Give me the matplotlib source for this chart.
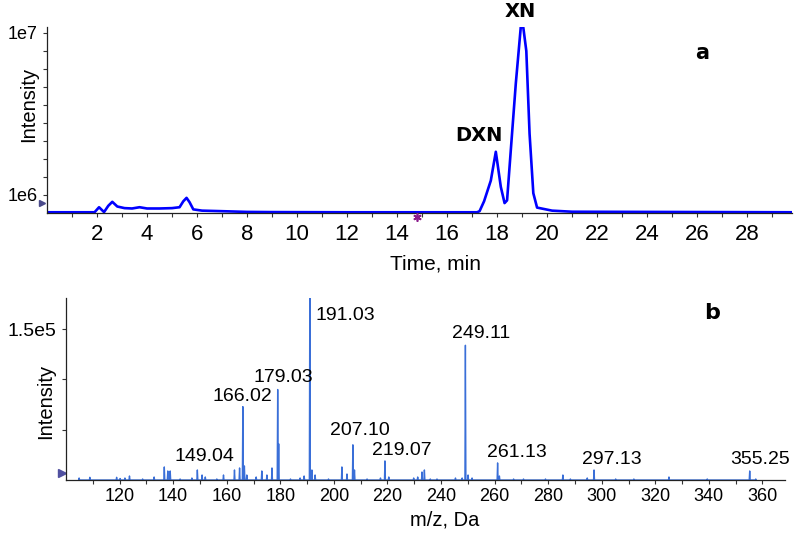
#!/usr/bin/env python3
# -*- coding: utf-8 -*-

"""Chromatogram (a) and mass spectrum (b) of DXN / XN."""

import matplotlib
matplotlib.use("Agg")
import matplotlib.pyplot as plt

plt.rcParams["font.family"] = ["Liberation Sans", "DejaVu Sans"]

# panel a: total ion chromatogram (time in min, intensity in 1e6 counts)
TIME = [0.0, 1.9, 2.08, 2.28, 2.45, 2.61, 2.81, 3.1, 3.4, 3.7, 4.0, 4.5,
        5.0, 5.3, 5.45, 5.58, 5.7, 5.85, 6.2, 7.0, 8.0, 9.0, 12.0, 17.2,
        17.3, 17.48, 17.75, 17.95, 18.15, 18.3, 18.4, 18.55, 18.75, 18.95,
        19.05, 19.17, 19.3, 19.45, 19.6, 20.2, 21.0, 24.0, 29.8]
INTENSITY = [0.04, 0.04, 0.32, 0.05, 0.4, 0.62, 0.36, 0.27, 0.25, 0.32,
             0.25, 0.25, 0.27, 0.32, 0.65, 0.84, 0.6, 0.2, 0.13, 0.1, 0.06,
             0.05, 0.04, 0.04, 0.1, 0.65, 1.8, 3.4, 1.45, 0.55, 0.7, 3.5,
             7.2, 10.35, 10.3, 9.0, 4.4, 1.1, 0.3, 0.13, 0.07, 0.06, 0.04]

# panel b: mass spectrum peaks (m/z, intensity in 1e5 counts)
MZ = [104.9, 108.9, 118.9, 120.2, 122.0, 123.7, 128.6, 132.9, 136.7, 138.0,
      138.9, 142.6, 147.0, 149.04, 150.8, 152.0, 156.3, 158.8, 162.9, 164.8,
      166.02, 166.6, 167.5, 171.0, 173.1, 175.0, 176.9, 179.03, 179.4, 183.8,
      187.4, 188.9, 191.03, 191.8, 193.0, 198.0, 203.0, 204.9, 207.10, 207.7,
      212.4, 217.4, 219.07, 220.5, 229.8, 231.3, 232.9, 233.8, 236.0, 238.5,
      245.4, 247.9, 249.11, 250.1, 251.6, 261.13, 261.8, 267.1, 270.8, 279.0,
      285.5, 288.3, 294.6, 297.13, 305.2, 312.0, 325.1, 339.4, 355.25, 357.5]
MZ_INT = [0.02, 0.027, 0.027, 0.015, 0.02, 0.04, 0.01, 0.03, 0.13, 0.09,
          0.09, 0.01, 0.02, 0.10, 0.05, 0.03, 0.01, 0.05, 0.10, 0.12,
          0.73, 0.14, 0.05, 0.03, 0.09, 0.05, 0.12, 0.90, 0.36, 0.01,
          0.02, 0.04, 1.95, 0.10, 0.05, 0.01, 0.13, 0.06, 0.35, 0.10,
          0.01, 0.02, 0.19, 0.03, 0.02, 0.03, 0.08, 0.10, 0.01, 0.01,
          0.02, 0.02, 1.34, 0.05, 0.02, 0.17, 0.04, 0.01, 0.01, 0.01,
          0.05, 0.01, 0.02, 0.10, 0.01, 0.01, 0.03, 0.01, 0.09, 0.01]

# labelled peaks: text, left edge m/z, vertical centre (1e5)
PEAK_LABELS = ["149.04", "166.02", "179.03", "191.03", "207.10", "219.07",
               "249.11", "261.13", "297.13", "355.25"]
LABEL_MZ = [140.4, 154.7, 170.0, 193.0, 198.4, 214.2, 244.2, 257.0, 292.7,
            348.1]
LABEL_Y = [0.23, 0.83, 1.02, 1.64, 0.49, 0.29, 1.46, 0.27, 0.20, 0.20]

LINE_A = "#0000ff"
LINE_B = "#3a6fd8"
BOLD = dict(family="DejaVu Sans", fontweight="bold")


def style_axes(ax):
    for side in ("top", "right"):
        ax.spines[side].set_visible(False)
    for side in ("left", "bottom"):
        ax.spines[side].set_linewidth(0.9)
        ax.spines[side].set_color("#222222")
    ax.tick_params(which="both", direction="out", length=3, width=0.8,
                   color="#333333")


def main():
    fig = plt.figure(figsize=(8.0, 5.33), dpi=100)

    # ---- panel a
    ax1 = fig.add_axes([0.0588, 0.6004, 0.9313, 0.3489])
    style_axes(ax1)
    ax1.plot(TIME, [v * 1e6 for v in INTENSITY], color=LINE_A, lw=1.9)
    ax1.set_xlim(0, 29.8)
    ax1.set_ylim(0, 1.033e7)
    ax1.set_xticks(range(2, 29, 2))
    ax1.set_xticks(range(1, 30, 2), minor=True)
    ax1.set_yticks([i * 1e6 for i in range(1, 11)])
    ax1.set_yticklabels(["1e6"] + [""] * 8 + ["1e7"])
    ax1.tick_params(axis="x", labelsize=16, pad=5)
    ax1.tick_params(axis="y", labelsize=13, pad=4)
    ax1.set_xlabel("Time, min", fontsize=15)
    ax1.xaxis.set_label_coords(0.522, -0.222)
    ax1.set_ylabel("Intensity", fontsize=14.5)
    ax1.yaxis.set_label_coords(-0.012, 0.585)
    ax1.text(18.92, 11.18e6, "XN", fontsize=14, ha="center", va="center",
             **BOLD)
    ax1.text(17.28, 4.33e6, "DXN", fontsize=14, ha="center", va="center",
             **BOLD)
    ax1.text(26.2, 8.9e6, "a", fontsize=15, ha="center", va="center", **BOLD)
    ax1.plot([-0.19], [0.57e6], marker=">", ms=4, color="#4a4a8a",
             clip_on=False)
    ax1.plot([14.8], [-0.2e6], marker=(6, 2, 0), ms=6, mew=1.2,
             color="#8b1a8b", clip_on=False, zorder=5)

    # ---- panel b
    ax2 = fig.add_axes([0.0825, 0.0994, 0.899, 0.3415])
    style_axes(ax2)
    xs, ys = [], []
    for mz, h in zip(MZ, MZ_INT):
        xs += [mz - 0.18, mz, mz + 0.18]
        ys += [0, h * 1e5, 0]
    ax2.plot(xs, ys, color=LINE_B, lw=1.0)
    ax2.set_xlim(100, 368.5)
    ax2.set_ylim(0, 1.81e5)
    ax2.set_xticks(range(120, 361, 20))
    ax2.set_xticks(range(110, 368, 20), minor=True)
    ax2.set_yticks([0.5e5, 1.0e5, 1.5e5])
    ax2.set_yticklabels(["", "", "1.5e5"])
    ax2.tick_params(axis="x", labelsize=13, pad=3)
    ax2.tick_params(axis="y", labelsize=14, pad=4)
    ax2.set_xlabel("m/z, Da", fontsize=14.5)
    ax2.xaxis.set_label_coords(0.527, -0.17)
    ax2.set_ylabel("Intensity", fontsize=14.5)
    ax2.yaxis.set_label_coords(-0.015, 0.434)
    for txt, mz, y in zip(PEAK_LABELS, LABEL_MZ, LABEL_Y):
        ax2.text(mz, y * 1e5, txt, fontsize=14, ha="left", va="center")
    ax2.text(341.3, 1.66e5, "b", fontsize=16, ha="center", va="center",
             **BOLD)
    ax2.plot([98.4], [0.07e5], marker=">", ms=6, color="#5050a0",
             clip_on=False)

    fig.savefig("out.png", dpi=100)


if __name__ == "__main__":
    main()
